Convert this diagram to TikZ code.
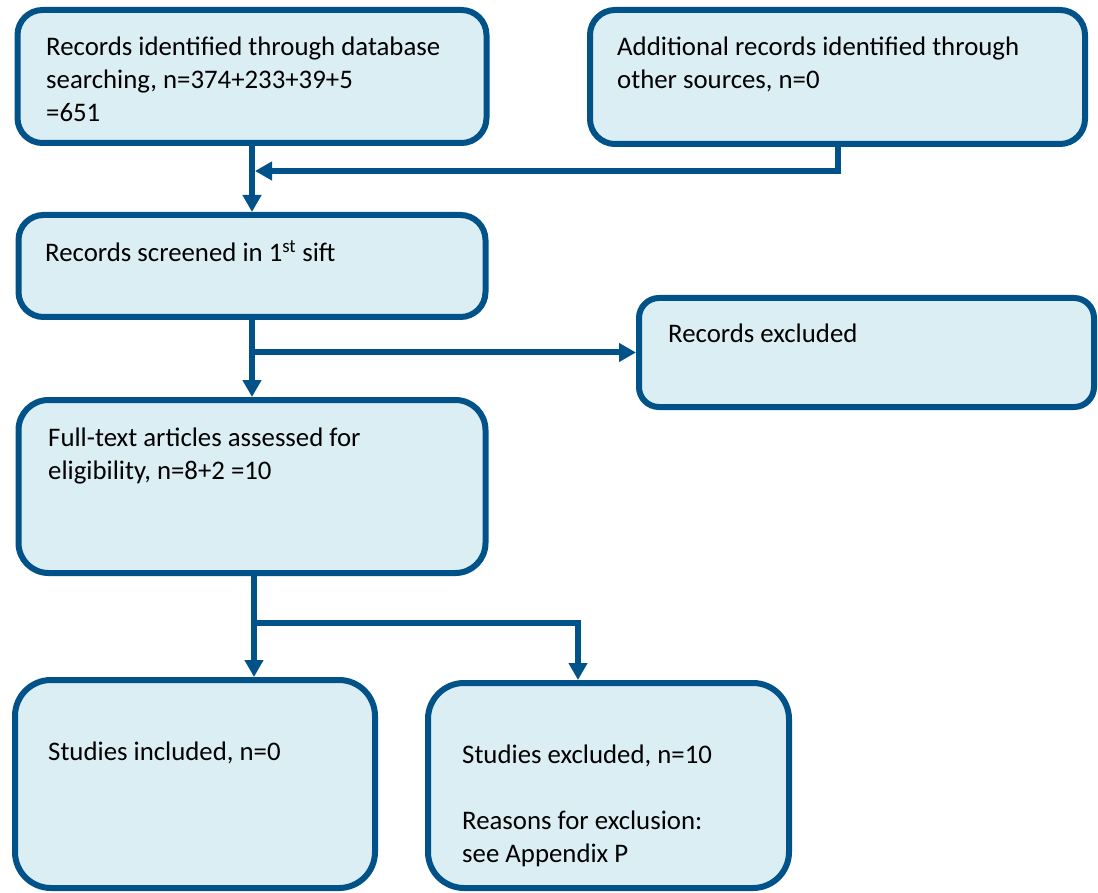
\documentclass[tikz,border=0pt]{standalone}
\usepackage{fontspec}
\setmainfont{Carlito}
\usetikzlibrary{arrows.meta, positioning}
\definecolor{flowline}{RGB}{0,82,136}
\definecolor{flowfill}{RGB}{219,238,243}
\tikzset{
 box/.style={draw=flowline, fill=flowfill, line width=6pt, rounded corners=25pt, inner sep=0pt},
 txt/.style={anchor=north west, inner sep=0pt, align=left, font=\fontsize{26.8}{33}\selectfont},
 flow/.style={draw=flowline, line width=6pt, -{Triangle[length=17pt,width=18pt]}}
}

\begin{document}
\begin{tikzpicture}[x=1pt, y=-1pt]
 \useasboundingbox (0,0) rectangle (1098,893);
 \node[box, minimum width=469pt, minimum height=133pt] (ident) at (252,76.5) {};
 \node[box, minimum width=495pt, minimum height=134pt] (other) at (837.5,77) {};
 \node[box, minimum width=467pt, minimum height=102pt] (screen) at (252,266) {};
 \node[box, minimum width=455pt, minimum height=109pt, rounded corners=20pt] (excl) at (866.5,352.5) {};
 \node[box, minimum width=467pt, minimum height=173pt, rounded corners=30pt] (full) at (252,486.5) {};
 \node[box, minimum width=360pt, minimum height=208pt, rounded corners=36pt] (incl) at (195,784) {};
 \node[box, minimum width=361pt, minimum height=205pt, rounded corners=36pt] (studx) at (608.5,785.5) {};

 \node[txt] (identtext) at (46,37) {Records identified through database\\searching, n=374+233+39+5\\=651};
 \node[txt] (othertext) at (617,37) {Additional records identified through\\other sources, n=0};
 \node[txt] (screentext) at (45,240) {Records screened in 1\textsuperscript{st} sift};
 \node[txt] (excltext) at (668,324) {Records excluded};
 \node[txt] (fulltext) at (48,428) {Full-text articles assessed for\\eligibility, n=8+2 =10};
 \node[txt] (incltext) at (48,742) {Studies included, n=0};
 \node[txt] (studxtext) at (462,745) {Studies excluded, n=10\\[33pt]Reasons for exclusion:\\see Appendix P};

 \coordinate (merge) at (255,171);
 \coordinate (fork) at (254,623);
 \coordinate (drop) at (578,623);
 \draw[flow] (ident) -- (screen);
 \draw[flow] (other.south) |- (merge);
 \draw[flow] (screen) -- (full);
 \draw[flow] (screen.south |- excl.west) -- (excl.west);
 \draw[flow] (full.south -| fork) -- (incl.north -| fork);
 \draw[flow] (fork) -| (studx.north -| drop);
\end{tikzpicture}
\end{document}
